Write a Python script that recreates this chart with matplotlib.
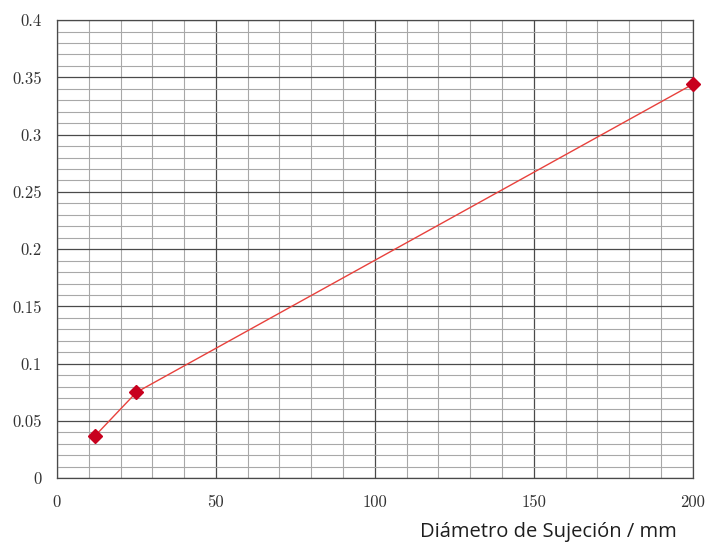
import numpy as np
import matplotlib.pyplot as plt
from matplotlib.ticker import MultipleLocator

# datos
diametro = [12, 25, 200]
valor = [0.037, 0.075, 0.344]

plt.rcParams['axes.formatter.use_mathtext'] = True

fig = plt.figure(figsize=(7.12, 5.44), dpi=100)
ax = fig.add_axes([0.080, 0.121, 0.893, 0.842])

ax.set_xlim(0, 200)
ax.set_ylim(0, 0.4)
ax.xaxis.set_major_locator(MultipleLocator(50))
ax.xaxis.set_minor_locator(MultipleLocator(10))
ax.yaxis.set_major_locator(MultipleLocator(0.05))
ax.yaxis.set_minor_locator(MultipleLocator(0.01))
ax.set_yticks([0, 0.05, 0.1, 0.15, 0.2, 0.25, 0.3, 0.35, 0.4])
ax.set_yticklabels(['0', '0.05', '0.1', '0.15', '0.2', '0.25', '0.3', '0.35', '0.4'])
ax.set_xticks([0, 50, 100, 150, 200])
ax.set_xticklabels(['0', '50', '100', '150', '200'])

ax.grid(which='major', color='#4a4a4a', linewidth=0.9)
ax.grid(which='minor', color='#a8a8a8', linewidth=0.8)
ax.set_axisbelow(True)
ax.tick_params(which='both', length=0, labelsize=12, colors='#333333')
ax.tick_params(axis='y', pad=11)
ax.tick_params(axis='x', pad=12)
for lab in ax.get_xticklabels() + ax.get_yticklabels():
    lab.set_family('cmr10')
for s in ax.spines.values():
    s.set_color('#4a4a4a')
    s.set_linewidth(0.9)

ax.plot(diametro, valor, color='#e8413c', linewidth=1.0, marker='D',
        markersize=7.5, markerfacecolor='#c8001e', markeredgecolor='#c8001e',
        clip_on=False, zorder=3)

fig.text(0.77, 0.003, 'Diámetro de Sujeción / mm', ha='center', va='bottom',
         fontsize=14.5, family='Open Sans', color='#1e1e1e')

fig.savefig('out.png', dpi=100)
